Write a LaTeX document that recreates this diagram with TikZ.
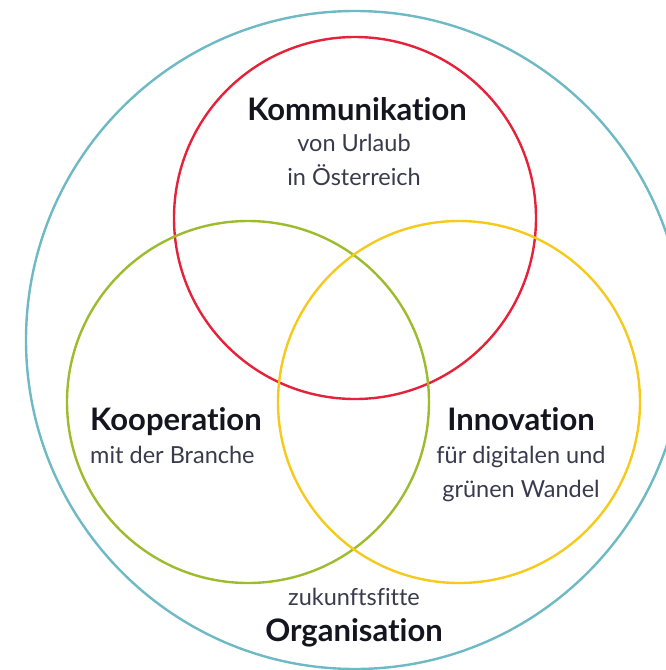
\documentclass[tikz,border=0pt]{standalone}
\usepackage{fontspec}
\setmainfont{Lato}[Ligatures=NoCommon]
\definecolor{teal1}{HTML}{6DB9C4}
\definecolor{red1}{HTML}{E6223A}
\definecolor{green1}{HTML}{9CBC2E}
\definecolor{yellow1}{HTML}{F6CA1C}
\definecolor{head}{HTML}{15151F}
\definecolor{sub}{HTML}{3A3A4E}
\tikzset{
  ring/.style={line width=2.4pt},
  headtxt/.style={inner sep=0pt, text=head, font=\fontsize{31}{34}\selectfont\bfseries},
  subtxt/.style={inner sep=0pt, text=sub, font=\fontsize{23.5}{26}\selectfont},
}
\begin{document}
\begin{tikzpicture}[x=1pt,y=-1pt]
\useasboundingbox (0,0) rectangle (666,670);
\draw[ring, teal1] (355,340) circle (329);
\draw[ring, red1] (355,218) circle (181);
\draw[ring, green1] (248,402) circle (181);
\draw[ring, yellow1] (459,402) circle (181);
% Kommunikation
\node[headtxt, anchor=base] (k1) at (357,120) {Kommunikation};
\node[subtxt, anchor=base] (k2) at (354,151) {von Urlaub};
\node[subtxt, anchor=base] (k3) at (354,185) {in Österreich};
% Kooperation
\node[headtxt, anchor=base west] (c1) at (90,430) {Kooperation};
\node[subtxt, anchor=base west] (c2) at (90,463) {mit der Branche};
% Innovation
\node[headtxt, anchor=base] (i1) at (521,430) {Innovation};
\node[subtxt, anchor=base] (i2) at (521,463) {für digitalen und};
\node[subtxt, anchor=base] (i3) at (521,497) {grünen Wandel};
% Organisation
\node[subtxt, anchor=base] (o1) at (354,605) {zukunftsfitte};
\node[headtxt, anchor=base] (o2) at (354,641) {Organisation};
\end{tikzpicture}
\end{document}
